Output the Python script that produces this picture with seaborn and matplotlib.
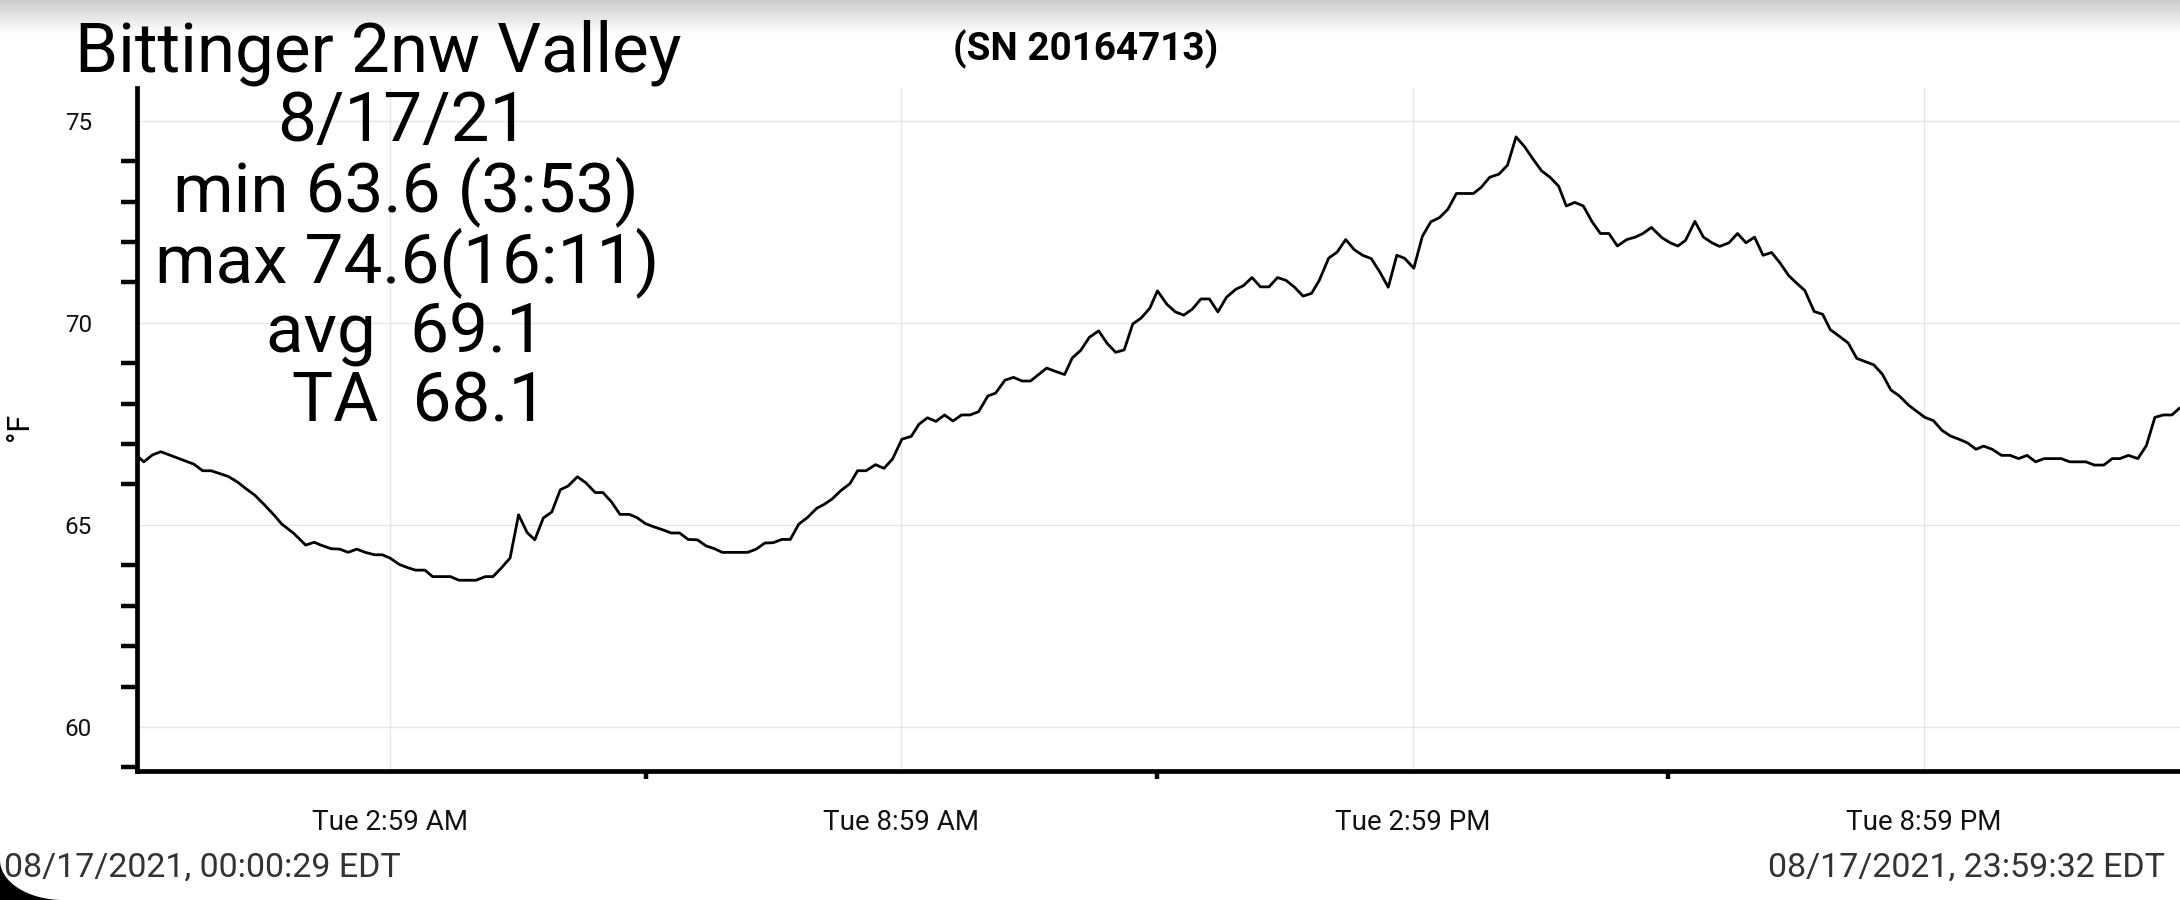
import numpy as np
import pandas as pd
import matplotlib
matplotlib.use("Agg")
import matplotlib.pyplot as plt
import seaborn as sns
from matplotlib.ticker import FixedLocator
from matplotlib.patches import Polygon

# ---------------- data ----------------
# hours since 08/17/2021 00:00:29 EDT
hours = [
    0.00, 0.08, 0.18, 0.28, 0.38, 0.47, 0.57, 0.67, 0.77, 0.87, 0.97, 1.07, 1.18, 1.27, 1.38, 1.49,
    1.61, 1.70, 1.84, 1.98, 2.08, 2.17, 2.28, 2.38, 2.48, 2.58, 2.68, 2.79, 2.88, 2.97, 3.08, 3.18,
    3.27, 3.38, 3.47, 3.58, 3.68, 3.78, 3.88, 3.98, 4.09, 4.18, 4.28, 4.38, 4.48, 4.58, 4.67, 4.77,
    4.87, 4.97, 5.06, 5.17, 5.27, 5.38, 5.47, 5.57, 5.67, 5.78, 5.87, 5.97, 6.07, 6.17, 6.27, 6.37,
    6.47, 6.58, 6.68, 6.78, 6.87, 6.98, 7.08, 7.17, 7.27, 7.37, 7.47, 7.57, 7.67, 7.77, 7.87, 7.98,
    8.07, 8.16, 8.27, 8.37, 8.46, 8.56, 8.67, 8.77, 8.87, 8.98, 9.09, 9.18, 9.28, 9.38, 9.48, 9.58,
    9.68, 9.78, 9.88, 9.99, 10.08, 10.19, 10.29, 10.39, 10.49, 10.59, 10.68, 10.78, 10.89, 10.98,
    11.08, 11.18, 11.29, 11.39, 11.49, 11.59, 11.69, 11.79, 11.89, 11.98, 12.09, 12.19, 12.29, 12.39,
    12.49, 12.59, 12.69, 12.79, 12.90, 12.99, 13.09, 13.19, 13.29, 13.39, 13.49, 13.59, 13.69, 13.79,
    13.88, 13.99, 14.09, 14.19, 14.29, 14.39, 14.49, 14.59, 14.69, 14.79, 14.88, 14.99, 15.09, 15.19,
    15.29, 15.39, 15.49, 15.59, 15.69, 15.78, 15.88, 15.99, 16.09, 16.19, 16.29, 16.39, 16.49, 16.59,
    16.69, 16.78, 16.88, 16.98, 17.08, 17.18, 17.28, 17.38, 17.49, 17.59, 17.68, 17.78, 17.90, 18.00,
    18.09, 18.18, 18.29, 18.39, 18.49, 18.58, 18.69, 18.79, 18.89, 18.99, 19.09, 19.19, 19.29, 19.39,
    19.49, 19.58, 19.69, 19.79, 19.88, 19.99, 20.09, 20.19, 20.29, 20.39, 20.49, 20.59, 20.69, 20.80,
    20.90, 20.99, 21.09, 21.19, 21.29, 21.39, 21.49, 21.59, 21.68, 21.78, 21.89, 21.99, 22.09, 22.19,
    22.29, 22.39, 22.49, 22.59, 22.69, 22.78, 22.88, 22.98, 23.09, 23.19, 23.28, 23.38, 23.49, 23.59,
    23.69, 23.79, 23.89, 23.98,
]
temps_f = [
    66.71, 66.56, 66.73, 66.81, 66.73, 66.66, 66.58, 66.50, 66.34, 66.34, 66.27, 66.20, 66.06, 65.91, 65.74, 65.51,
    65.24, 65.02, 64.79, 64.50, 64.57, 64.49, 64.41, 64.40, 64.32, 64.40, 64.32, 64.26, 64.26, 64.18, 64.02, 63.94,
    63.88, 63.88, 63.72, 63.72, 63.72, 63.63, 63.63, 63.63, 63.72, 63.72, 63.94, 64.18, 65.25, 64.81, 64.63, 65.17,
    65.32, 65.87, 65.96, 66.19, 66.04, 65.80, 65.80, 65.57, 65.26, 65.26, 65.18, 65.03, 64.95, 64.88, 64.80, 64.80,
    64.64, 64.63, 64.48, 64.41, 64.32, 64.32, 64.32, 64.32, 64.40, 64.55, 64.56, 64.64, 64.64, 65.02, 65.18, 65.41,
    65.51, 65.64, 65.86, 66.02, 66.34, 66.34, 66.49, 66.40, 66.63, 67.12, 67.19, 67.49, 67.65, 67.56, 67.72, 67.57,
    67.72, 67.72, 67.80, 68.19, 68.26, 68.58, 68.65, 68.56, 68.56, 68.73, 68.88, 68.80, 68.72, 69.13,
    69.32, 69.64, 69.80, 69.49, 69.27, 69.33, 69.97, 70.12, 70.36, 70.79, 70.46, 70.27, 70.19, 70.34,
    70.59, 70.59, 70.27, 70.63, 70.83, 70.92, 71.12, 70.89, 70.89, 71.12, 71.05, 70.88, 70.66, 70.73,
    71.05, 71.60, 71.75, 72.06, 71.81, 71.67, 71.59, 71.26, 70.88, 71.67, 71.60, 71.35, 72.14, 72.50,
    72.60, 72.81, 73.20, 73.20, 73.20, 73.35, 73.60, 73.68, 73.90, 74.60, 74.36, 74.05, 73.76, 73.60,
    73.38, 72.89, 72.98, 72.89, 72.51, 72.21, 72.21, 71.90, 72.06, 72.12, 72.21, 72.36, 72.11, 71.98,
    71.90, 72.04, 72.51, 72.12, 71.98, 71.89, 71.98, 72.21, 71.98, 72.12, 71.67, 71.74, 71.48, 71.17,
    70.97, 70.80, 70.28, 70.21, 69.83, 69.66, 69.50, 69.12, 69.04, 68.96, 68.73, 68.34, 68.19, 67.96,
    67.80, 67.66, 67.58, 67.34, 67.20, 67.12, 67.03, 66.87, 66.95, 66.87, 66.72, 66.72, 66.64, 66.72,
    66.56, 66.64, 66.64, 66.64, 66.56, 66.56, 66.56, 66.48, 66.48, 66.64, 66.64, 66.72, 66.64, 66.96,
    67.66, 67.72, 67.72, 67.89,
]
major_tick_hours = [2.975, 8.975, 14.975, 20.975]
major_tick_labels = ["Tue 2:59 AM", "Tue 8:59 AM", "Tue 2:59 PM", "Tue 8:59 PM"]
minor_tick_hours = [5.975, 11.975, 17.975]
y_major = [60, 65, 70, 75]
y_minor = list(range(59, 76))

title_text = "Bittinger 2nw Valley"
stat_lines = ["8/17/21", "min 63.6 (3:53)", "max 74.6(16:11)", "avg  69.1", "TA  68.1"]
serial_text = "(SN 20164713)"
start_text = "08/17/2021, 00:00:29 EDT"
end_text = "08/17/2021, 23:59:32 EDT"
unit_label = "°F"

# ---------------- style ----------------
sns.set_style("white")
plt.rcParams["font.family"] = ["Roboto", "DejaVu Sans"]

W, H = 2180, 900
fig = plt.figure(figsize=(W / 100, H / 100), dpi=100)
fig.patch.set_facecolor("white")

ax_l, ax_r, ax_t, ax_b = 137, 2180, 88, 771
ax = fig.add_axes([ax_l / W, 1 - ax_b / H, (ax_r - ax_l) / W, (ax_b - ax_t) / H])

df = pd.DataFrame({"hour": hours, "temp": temps_f})
sns.lineplot(data=df, x="hour", y="temp", ax=ax, color="black", linewidth=2.0, sort=False)

ax.set_xlim(0, 23.985)
ax.set_ylim(58.91, 75.81)
ax.set_xlabel("")
ax.set_ylabel("")

ax.xaxis.set_major_locator(FixedLocator(major_tick_hours))
ax.set_xticklabels(major_tick_labels)
ax.xaxis.set_minor_locator(FixedLocator(minor_tick_hours))
ax.yaxis.set_major_locator(FixedLocator(y_major))
ax.yaxis.set_minor_locator(FixedLocator(y_minor))

ax.grid(True, which="major", color="#e6e6e6", linewidth=1.0)
ax.set_axisbelow(True)
for s in ["top", "right"]:
    ax.spines[s].set_visible(False)
for s in ["left", "bottom"]:
    ax.spines[s].set_color("black")
    ax.spines[s].set_linewidth(3.4)

ax.tick_params(axis="y", which="major", length=11.5, width=3.2, color="black",
               labelsize=17.5, pad=21, labelcolor="#111111")
ax.tick_params(axis="y", which="minor", length=11.5, width=3.2, color="black", left=True)
ax.tick_params(axis="x", which="major", length=10.5, width=3.2, color="black",
               labelsize=20, pad=17, labelcolor="#111111")
ax.tick_params(axis="x", which="minor", length=5.5, width=3.2, color="black", bottom=True)

# ---------------- texts ----------------
def px(x, y):
    return x / W, 1 - y / H

fig.text(*px(378, 72), title_text, ha="center", va="baseline", fontsize=49.8, color="black")
stat_pos = [(403, 141), (406, 211), (407, 282), (405, 352), (420, 422)]
for (x, y), line in zip(stat_pos, stat_lines):
    fig.text(*px(x, y), line, ha="center", va="baseline", fontsize=49.8, color="black")

fig.text(*px(1086, 60), serial_text, ha="center", va="baseline", fontsize=27.8,
         fontweight="bold", color="black")
fig.text(*px(4, 877), start_text, ha="left", va="baseline", fontsize=24.5, color="#333333")
fig.text(*px(2165, 877), end_text, ha="right", va="baseline", fontsize=24.5, color="#333333")
fig.text(*px(19, 427), unit_label, ha="center", va="center", rotation=90, fontsize=22, color="black")

# ---------------- screenshot decorations ----------------
# top shadow gradient
gax = fig.add_axes([0, 1 - 34 / H, 1, 34 / H], zorder=-1)
grad = np.linspace(0.80, 1.0, 60).reshape(-1, 1)
gax.imshow(np.repeat(grad, 2, axis=1), cmap="gray", vmin=0, vmax=1, aspect="auto",
           extent=[0, 1, 0, 1], origin="upper")
gax.set_axis_off()

# rounded screen corner (bottom-left)
a, b = 63, 40
t = np.linspace(0, np.pi / 2, 40)
cx = a - a * np.cos(t)
cy = (H - b) + b * np.sin(t)
verts = [(x / W, 1 - y / H) for x, y in zip(cx, cy)] + [(0, 0)]
fig.patches.append(Polygon(verts, closed=True, transform=fig.transFigure,
                           facecolor="black", edgecolor="none", zorder=10))

fig.savefig("out.png", dpi=100, facecolor="white")
